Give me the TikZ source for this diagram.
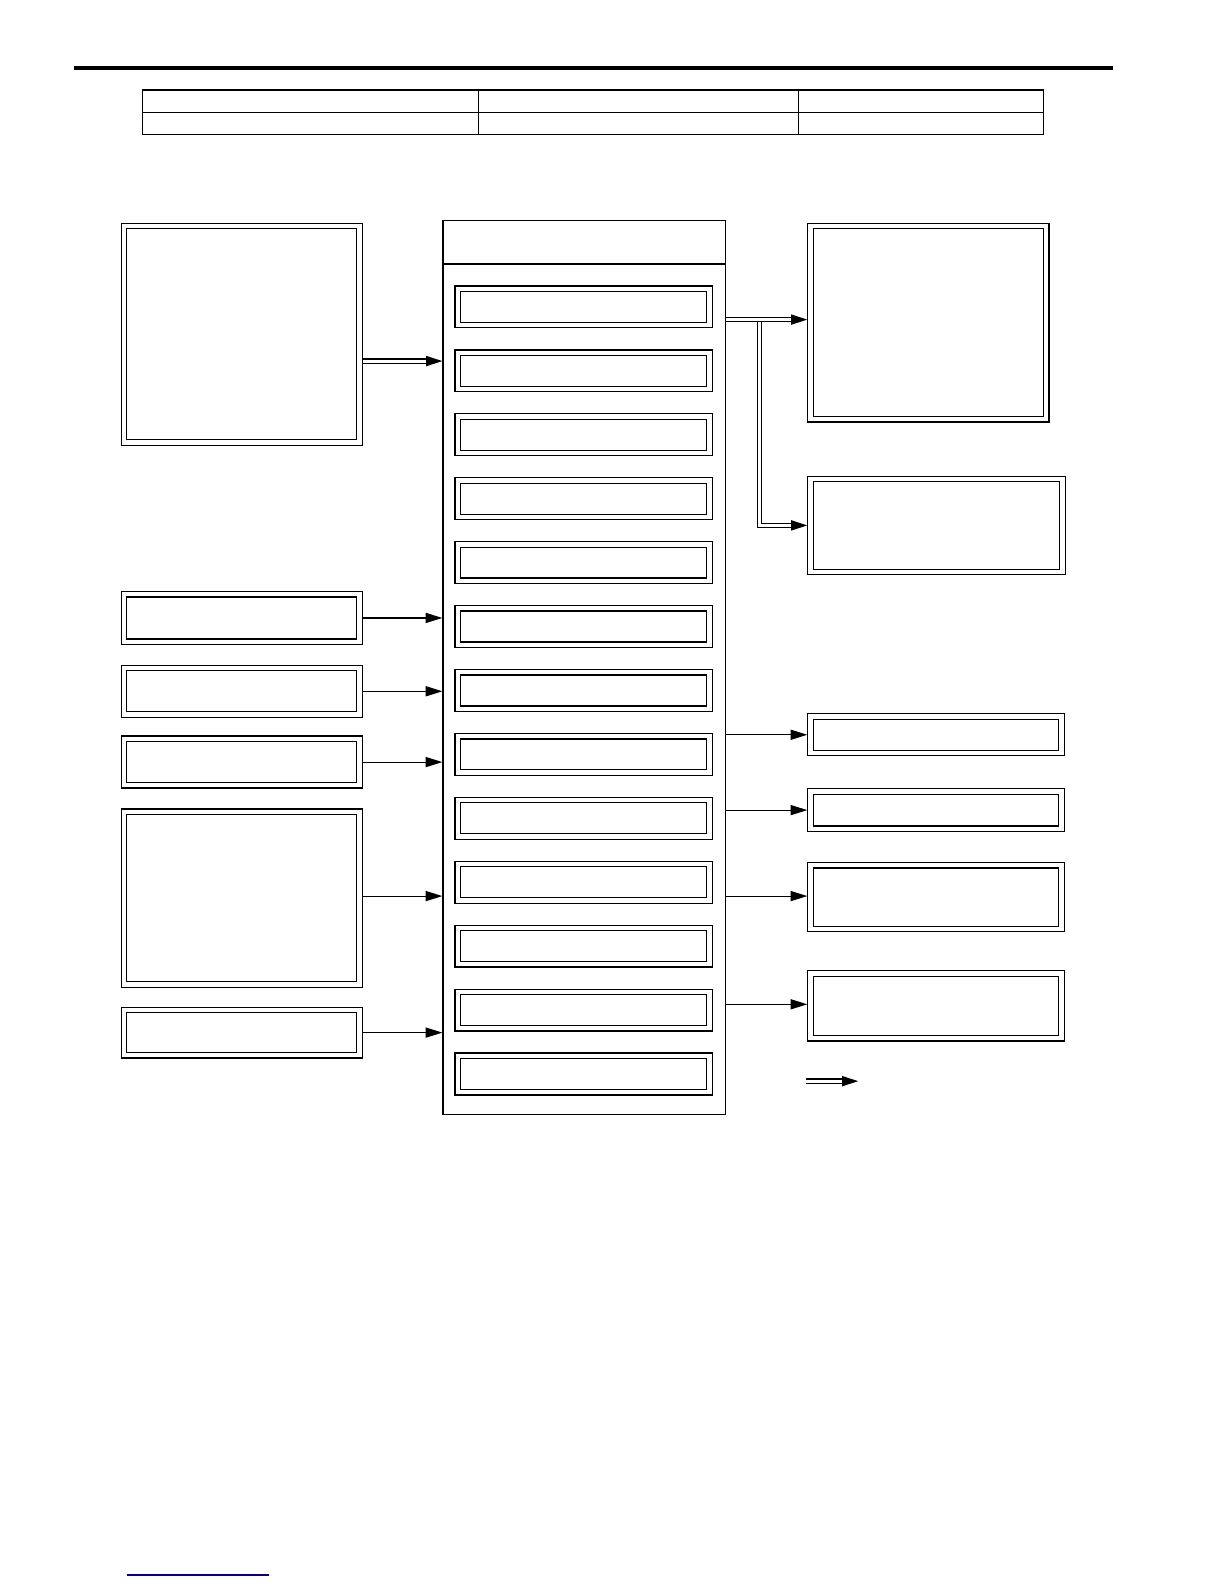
\documentclass[tikz,border=0pt]{standalone}
\usetikzlibrary{arrows.meta}
\tikzset{
  dbl/.style={draw, double, double distance=4.2pt, line width=1.2pt, inner sep=0pt, outer sep=3.3pt, rectangle},
  sgl/.style={draw, line width=1.2pt, inner sep=0pt, outer sep=0.6pt, rectangle},
  arr/.style={line width=1.1pt, -{Triangle[length=16.5pt,width=10pt]}},
  darr/.style={double, double distance=3pt, line width=1.2pt, -{Triangle[length=16pt,width=10pt]}},
}
\newcommand\dbox[5]{\node[dbl, minimum width=#4pt-7pt, minimum height=#5pt-7pt] (#1) at (#2,#3) {};}
\begin{document}
\begin{tikzpicture}[x=1pt,y=-1pt]
\useasboundingbox (0,0) rectangle (1210.2,1566.2);
% top bar
\draw[line width=4pt] (73,67.5) -- (1100,67.5);
% table
\draw[line width=1.3pt] (141,89) rectangle (1032,133);
\draw[line width=1.3pt] (141,111) -- (1032,111);
\draw[line width=0.9pt] (473,89) -- (473,133);
\draw[line width=0.9pt] (789,89) -- (789,133);
% left boxes
\dbox{L1}{239}{330.5}{240}{221}
\dbox{L2}{239}{611}{240}{54}
\dbox{L3}{239}{683.5}{240}{53}
\dbox{L4}{239}{753.5}{240}{53}
\dbox{L5}{239}{888}{240}{178}
\dbox{L6}{239}{1021}{240}{52}
% center box
\node[sgl, minimum width=279pt, minimum height=884pt] (C) at (577.5,660) {};
\draw[line width=1.2pt] (C.west |- 0,261) -- (C.east |- 0,261);
\foreach \i in {0,...,12} {
  \dbox{M\i}{577}{303.5+63.2*\i}{256}{43}
}
% right boxes
\dbox{R1}{918}{319}{240}{198}
\dbox{R2}{926}{519.5}{256}{99}
\dbox{R3}{925.5}{726.5}{255}{43}
\dbox{R4}{925.5}{801}{255}{44}
\dbox{R5}{925.5}{887}{255}{70}
\dbox{R6}{925.5}{994.5}{255}{71}
% left connectors
\draw[darr] (L1.east |- 0,357) -- (C.west |- 0,357);
\draw[arr] (L2.east) -- (L2.east -| C.west);
\draw[arr] (L3.east) -- (L3.east -| C.west);
\draw[arr] (L4.east) -- (L4.east -| C.west);
\draw[arr] (L5.east |- 0,886) -- (C.west |- 0,886);
\draw[arr] (L6.east) -- (L6.east -| C.west);
% right connectors
\coordinate (br) at (750.8,316);
\draw[darr] (br) |- (R2.west);
\draw[darr] (C.east |- 0,316) -- (R1.west |- 0,316);
\draw[arr] (R3.west -| C.east) -- (R3.west);
\draw[arr] (R4.west -| C.east) -- (R4.west);
\draw[arr] (C.east |- 0,886) -- (R5.west |- 0,886);
\draw[arr] (C.east |- 0,993) -- (R6.west |- 0,993);
% legend
\coordinate (lg1) at (796.5,1069);
\coordinate (lg2) at (848.6,1069);
\draw[darr] (lg1) -- (lg2);
% bottom link line
\coordinate (bl1) at (125.3,1557.3);
\coordinate (bl2) at (266,1557.3);
\draw[line width=1.5pt, color={rgb,255:red,0;green,0;blue,140}] (bl1) -- (bl2);
\end{tikzpicture}
\end{document}
